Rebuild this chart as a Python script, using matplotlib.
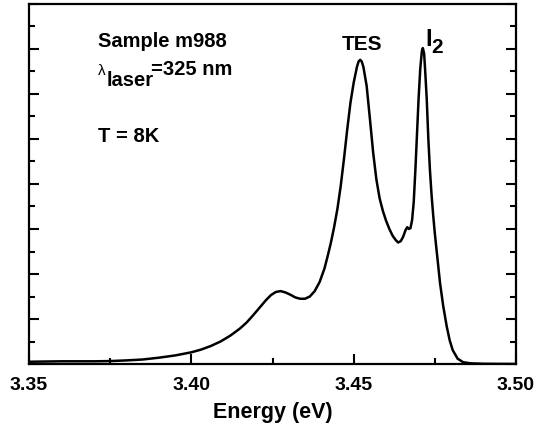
import matplotlib
matplotlib.use("Agg")
import matplotlib.pyplot as plt
from matplotlib.ticker import MultipleLocator

plt.rcParams['font.family'] = ['Liberation Sans', 'DejaVu Sans']

# PL spectrum
energy = [3.3500, 3.3550, 3.3600, 3.3650, 3.3700, 3.3750, 3.3800, 3.3850,
          3.3900, 3.3950, 3.4000, 3.4030, 3.4060, 3.4090, 3.4120, 3.4150,
          3.4170, 3.4190, 3.4210, 3.4230, 3.4245, 3.4260, 3.4275, 3.4290,
          3.4305, 3.4320, 3.4335, 3.4350, 3.4365, 3.4380, 3.4395, 3.4410,
          3.4420, 3.4430, 3.4440, 3.4450, 3.4460, 3.4470, 3.4480, 3.4490,
          3.4500, 3.4510, 3.4515, 3.4520, 3.4525, 3.4530, 3.4540, 3.4550,
          3.4560, 3.4570, 3.4580, 3.4590, 3.4600, 3.4610, 3.4620, 3.4630,
          3.4637, 3.4645, 3.4652, 3.4660, 3.4665, 3.4670, 3.4675, 3.4680,
          3.4685, 3.4690, 3.4695, 3.4700, 3.4705, 3.4710, 3.4713, 3.4717,
          3.4720, 3.4725, 3.4730, 3.4735, 3.4740, 3.4745, 3.4750, 3.4758,
          3.4766, 3.4776, 3.4787, 3.4796, 3.4805, 3.4820, 3.4837, 3.4860,
          3.4900, 3.5000]
intensity = [0.05, 0.055, 0.06, 0.06, 0.06, 0.065, 0.08, 0.10,
             0.14, 0.19, 0.26, 0.32, 0.40, 0.50, 0.63, 0.79,
             0.92, 1.08, 1.25, 1.42, 1.53, 1.60, 1.62, 1.59,
             1.54, 1.48, 1.45, 1.45, 1.50, 1.62, 1.82, 2.12,
             2.40, 2.70, 3.05, 3.45, 3.95, 4.55, 5.20, 5.80,
             6.25, 6.60, 6.72, 6.76, 6.72, 6.60, 6.18, 5.45,
             4.70, 4.10, 3.68, 3.40, 3.18, 3.00, 2.85, 2.75,
             2.70, 2.73, 2.82, 2.98, 3.04, 3.00, 3.02, 3.20,
             3.60, 4.30, 5.10, 5.90, 6.55, 6.95, 7.02, 6.90,
             6.55, 5.90, 5.00, 4.30, 3.75, 3.30, 2.90, 2.35,
             1.80, 1.28, 0.82, 0.52, 0.31, 0.12, 0.04, 0.015,
             0.005, 0.00]

xticks = [3.35, 3.40, 3.45, 3.50]
xticklabels = ["3.35", "3.40", "3.45", "3.50"]

W, H = 544, 432
fig = plt.figure(figsize=(W / 100, H / 100), dpi=100)
ax = fig.add_axes([29 / W, (H - 364) / H, 487 / W, 360 / H])

ax.plot(energy, intensity, color='black', lw=1.8, solid_joinstyle='round')

ax.set_xlim(3.35, 3.50)
ax.set_ylim(0, 8)
ax.set_xticks(xticks)
ax.set_xticklabels(xticklabels, fontsize=14, fontweight='bold')
ax.xaxis.set_minor_locator(MultipleLocator(0.025))
ax.yaxis.set_major_locator(MultipleLocator(1))
ax.yaxis.set_minor_locator(MultipleLocator(0.5))
ax.set_yticklabels([])
ax.tick_params(axis='both', which='both', direction='in', width=1.5)
ax.tick_params(axis='both', which='major', length=7)
ax.tick_params(axis='both', which='minor', length=4)
ax.tick_params(axis='y', which='both', left=True, right=True, labelleft=False)
ax.tick_params(axis='x', which='both', top=False, pad=9)
for s in ax.spines.values():
    s.set_linewidth(1.6)

ax.set_xlabel("Energy (eV)", fontsize=15.5, fontweight='bold', labelpad=6)


def px(x, y):
    return x / W, 1 - y / H


fig.text(*px(98, 47), "Sample m988", fontsize=14.5, fontweight='bold', va='baseline')
fig.text(*px(98, 75), "λ", fontsize=11, va='baseline')
fig.text(*px(107, 86), "laser", fontsize=14.5, fontweight='bold', va='baseline')
fig.text(*px(151, 75), "=325 nm", fontsize=14.5, fontweight='bold', va='baseline')
fig.text(*px(98, 142), "T = 8K", fontsize=14.5, fontweight='bold', va='baseline')
fig.text(*px(362, 50), "TES", fontsize=15, fontweight='bold', va='baseline', ha='center')
fig.text(*px(425, 46), "I", fontsize=17, fontweight='bold', va='baseline')
fig.text(*px(431, 53), "2", fontsize=15, fontweight='bold', va='baseline')

fig.savefig("out.png", dpi=100)
